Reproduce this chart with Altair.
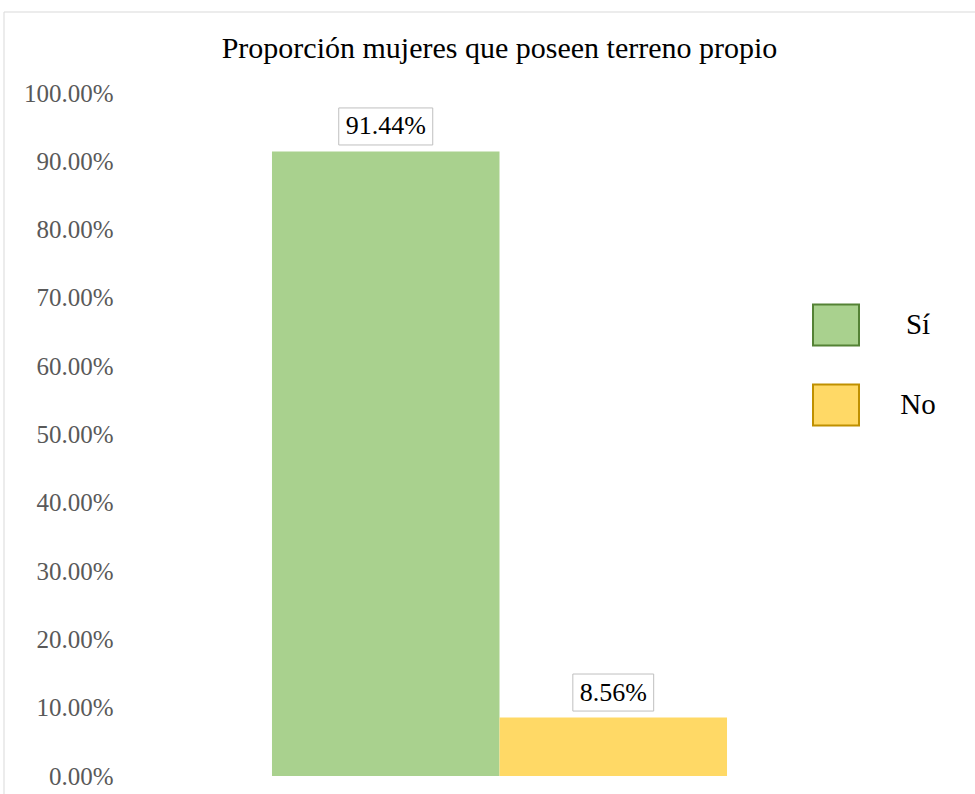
import altair as alt
import pandas as pd

categories = ["Sí", "No"]
values = [0.9144, 0.0856]
y_ticks = [0.0, 0.1, 0.2, 0.3, 0.4, 0.5, 0.6, 0.7, 0.8, 0.9, 1.0]

fills = ["#A9D18E", "#FFD966"]
strokes = ["#548235", "#BF9000"]
box_shapes = ["M-1,-0.394H1V0.394H-1Z", "M-0.86,-0.394H0.86V0.394H-0.86Z"]
legend_shape = "M-1,-0.89H1V0.89H-1Z"

df = pd.DataFrame({"cat": categories, "val": values})
SERIF = "Liberation Serif"

x_enc = alt.X("cat:N", sort=categories, axis=None,
              scale=alt.Scale(paddingInner=0, paddingOuter=0.668))
y_enc = alt.Y("val:Q", scale=alt.Scale(domain=[0, 1], nice=False),
              axis=alt.Axis(values=y_ticks, format=".2%", title=None, ticks=False,
                            domain=False, grid=False, labelPadding=7,
                            labelFont=SERIF, labelFontSize=25, labelColor="#595959"))

base = alt.Chart(df)

bars = base.mark_bar(strokeWidth=0).encode(
    x=x_enc,
    y=y_enc,
    color=alt.Color("cat:N", sort=categories,
                    scale=alt.Scale(domain=categories, range=fills),
                    legend=alt.Legend(title=None, orient="none", legendX=692, legendY=208,
                                      symbolType=legend_shape, symbolSize=2116,
                                      symbolStrokeWidth=2, labelFont=SERIF, labelFontSize=29,
                                      labelColor="black", labelAlign="center", labelOffset=58,
                                      rowPadding=30, padding=0)),
    stroke=alt.Stroke("cat:N", sort=categories,
                      scale=alt.Scale(domain=categories, range=strokes)),
)

box_layers = []
for cat, shp in zip(categories, box_shapes):
    box_layers.append(
        base.transform_filter(alt.datum.cat == cat).mark_point(
            shape=shp, filled=True, fill="white", stroke="#BFBFBF", strokeWidth=1,
            opacity=1, size=8836, yOffset=-25).encode(
            x=x_enc,
            y=alt.Y("val:Q"),
        )
    )

labels = base.mark_text(font=SERIF, fontSize=26, color="black", dy=-25, baseline="middle").encode(
    x=x_enc,
    y=alt.Y("val:Q"),
    text=alt.Text("val:Q", format=".2%"),
)

border = alt.Chart(pd.DataFrame({"a": [0]})).mark_rect(fill=None, stroke="#D9D9D9", strokeWidth=1).encode(
    x=alt.value(-116), x2=alt.value(862), y=alt.value(-81), y2=alt.value(710)
)

chart = alt.layer(border, bars, *box_layers, labels).properties(
    width=759, height=683,
    padding={"left": 120, "top": 93, "right": 96, "bottom": 18},
    autosize=alt.AutoSizeParams(type="none"),
    title=alt.TitleParams("Proporción mujeres que poseen terreno propio", font=SERIF,
                          fontSize=30, fontWeight="normal", color="black", offset=-52,
                          anchor="middle"),
).configure(background="white").configure_view(stroke="transparent", strokeWidth=0)

chart.save("out.html", embed_options={"renderer": "svg", "actions": False})
